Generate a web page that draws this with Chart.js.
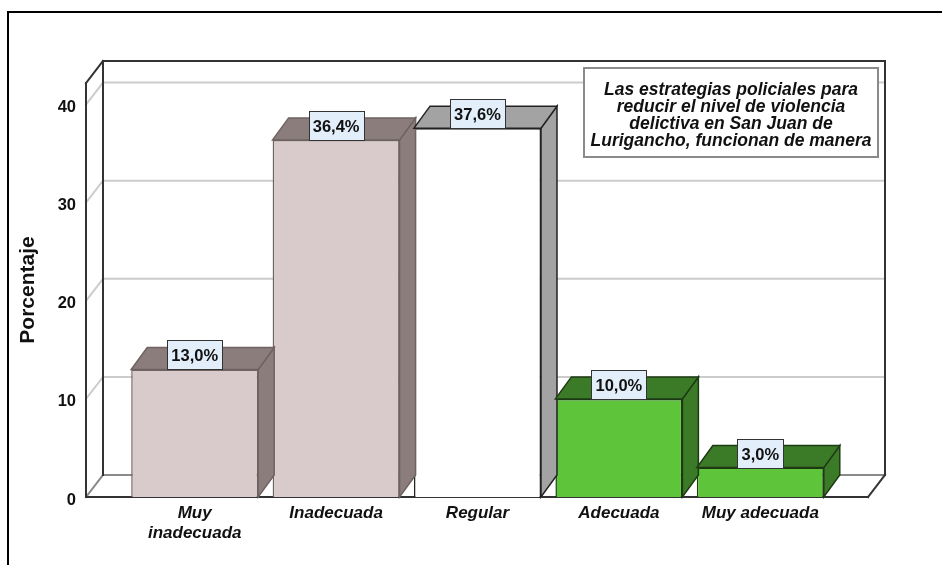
<!DOCTYPE html>
<html>
<head>
<meta charset="utf-8">
<script src="https://cdn.jsdelivr.net/npm/chart.js@4.4.1/dist/chart.umd.min.js"></script>
<style>
  html, body { margin: 0; padding: 0; background: #fff; }
  #wrap { width: 942px; height: 565px; }
</style>
</head>
<body>
<div id="wrap"><canvas id="chart" width="942" height="565"></canvas></div>
<script>
// values
var categories = [['Muy', 'inadecuada'], 'Inadecuada', 'Regular', 'Adecuada', 'Muy adecuada'];
var percentages = [13.0, 36.4, 37.6, 10.0, 3.0];
var yTicks = [0, 10, 20, 30, 40];
var noteLines = [
	'Las estrategias policiales para',
	'reducir el nivel de violencia',
	'delictiva en San Juan de',
	'Lurigancho, funcionan de manera'
];

// bar styling
var frontColors = ['#d9cbcb', '#d9cbcb', '#ffffff', '#5ec43a', '#5ec43a'];
var shadeColors = ['#8c7d7d', '#8c7d7d', '#a3a3a3', '#3b7a26', '#3b7a26'];
var edgeColors = ['#6e6262', '#6e6262', '#222222', '#1e3a14', '#1e3a14'];

var FONT = '"Liberation Sans", Arial, sans-serif';
var barDepth = { x: 16, y: 22 };
var wallDepth = { x: 17, y: 22 };

function fmt(v) {
	return v.toFixed(1).replace('.', ',') + '%';
}

function poly(ctx, pts, fill, stroke, lw) {
	ctx.beginPath();
	ctx.moveTo(pts[0][0], pts[0][1]);
	for (var i = 1; i < pts.length; i++) {
		ctx.lineTo(pts[i][0], pts[i][1]);
	}
	ctx.closePath();
	if (fill) {
		ctx.fillStyle = fill;
		ctx.fill();
	}
	if (stroke) {
		ctx.strokeStyle = stroke;
		ctx.lineWidth = lw || 1;
		ctx.stroke();
	}
}

function line(ctx, x1, y1, x2, y2) {
	ctx.beginPath();
	ctx.moveTo(x1, y1);
	ctx.lineTo(x2, y2);
	ctx.stroke();
}

var box3d = {
	id: 'box3d',
	beforeDatasetsDraw: function (chart) {
		var ctx = chart.ctx, a = chart.chartArea, ys = chart.scales.y;
		var fl = a.left - 38, fr = a.right + 37, ft = a.top, fb = a.bottom;
		var dx = wallDepth.x, dy = wallDepth.y;
		ctx.save();
		ctx.lineCap = 'square';

		// grid lines on the left wall and back wall
		ctx.strokeStyle = '#cccccc';
		ctx.lineWidth = 2;
		yTicks.forEach(function (v) {
			if (v === 0) {
				return;
			}
			var py = ys.getPixelForValue(v);
			ctx.beginPath();
			ctx.moveTo(fl, py);
			ctx.lineTo(fl + dx, py - dy);
			ctx.lineTo(fr + dx, py - dy);
			ctx.stroke();
		});

		// floor back edge and lower left diagonal
		ctx.strokeStyle = '#8a8a8a';
		line(ctx, fl + dx, fb - dy, fr + dx, fb - dy);
		line(ctx, fl, fb, fl + dx, fb - dy);

		// dark frame edges
		ctx.strokeStyle = '#333333';
		line(ctx, fl + dx, ft - dy, fr + dx, ft - dy);
		line(ctx, fr + dx, ft - dy, fr + dx, fb - dy);
		line(ctx, fl + dx, ft - dy, fl + dx, fb - dy);
		line(ctx, fl, ft, fl + dx, ft - dy);
		line(ctx, fl, ft, fl, fb);
		line(ctx, fl, fb, fr, fb);
		line(ctx, fr, fb, fr + dx, fb - dy);
		ctx.restore();
	},
	afterDatasetsDraw: function (chart) {
		var ctx = chart.ctx;
		var meta = chart.getDatasetMeta(0);
		var dx = barDepth.x, dy = barDepth.y;
		ctx.save();
		ctx.lineJoin = 'miter';
		meta.data.forEach(function (bar, i) {
			var half = bar.width / 2;
			var l = bar.x - half, r = bar.x + half, t = bar.y, b = bar.base;
			poly(ctx, [[r, t], [r + dx, t - dy], [r + dx, b - dy], [r, b]], shadeColors[i], edgeColors[i], 1.5);
			poly(ctx, [[l, t], [l + dx, t - dy], [r + dx, t - dy], [r, t]], shadeColors[i], edgeColors[i], 1.5);
		});

		// value labels
		ctx.font = 'bold 16.5px ' + FONT;
		ctx.textAlign = 'center';
		ctx.textBaseline = 'middle';
		meta.data.forEach(function (bar, i) {
			var txt = fmt(percentages[i]);
			var w = Math.round(ctx.measureText(txt).width) + 8;
			var h = 29;
			var bx = Math.round(bar.x - w / 2) + 0.5;
			var by = Math.round(bar.y - h) + 0.5;
			ctx.fillStyle = '#e2eefa';
			ctx.fillRect(bx, by, w, h);
			ctx.strokeStyle = '#333333';
			ctx.lineWidth = 1;
			ctx.strokeRect(bx, by, w, h);
			ctx.fillStyle = '#111111';
			ctx.fillText(txt, bar.x, by + h / 2 + 1);
		});
		ctx.restore();
	},
	afterDraw: function (chart) {
		var ctx = chart.ctx;
		ctx.save();

		// note box in the upper right
		ctx.fillStyle = '#ffffff';
		ctx.fillRect(584, 68, 294, 89);
		ctx.strokeStyle = '#8a8a8a';
		ctx.lineWidth = 2;
		ctx.strokeRect(584, 68, 294, 89);
		ctx.fillStyle = '#111111';
		ctx.font = 'italic bold 17.5px ' + FONT;
		ctx.textAlign = 'center';
		ctx.textBaseline = 'middle';
		noteLines.forEach(function (s, i) {
			ctx.fillText(s, 731, 90 + i * 17);
		});

		// outer frame (top and left only)
		ctx.strokeStyle = '#000000';
		ctx.lineWidth = 2;
		ctx.beginPath();
		ctx.moveTo(942, 12);
		ctx.lineTo(8, 12);
		ctx.lineTo(8, 565);
		ctx.stroke();
		ctx.restore();
	}
};

var ctx = document.getElementById('chart').getContext('2d');
var chart = new Chart(ctx, {
	type: 'bar',
	data: {
		labels: categories,
		datasets: [{
			data: percentages,
			backgroundColor: frontColors,
			borderColor: edgeColors,
			borderWidth: 1.5,
			barPercentage: 0.898,
			categoryPercentage: 1
		}]
	},
	options: {
		responsive: false,
		animation: false,
		devicePixelRatio: 1,
		layout: { padding: { top: 83, right: 111, left: 0, bottom: 0 } },
		plugins: {
			legend: { display: false },
			tooltip: { enabled: false }
		},
		scales: {
			x: {
				grid: { display: false, drawTicks: false },
				border: { display: false },
				ticks: {
					color: '#111111',
					padding: 6,
					maxRotation: 0,
					autoSkip: false,
					font: { family: FONT, size: 17, weight: 'bold', style: 'italic', lineHeight: 1.2 }
				},
				afterFit: function (scale) {
					scale.height = 68;
				}
			},
			y: {
				min: 0,
				max: 42.2,
				grid: { display: false, drawTicks: false },
				border: { display: false },
				ticks: {
					stepSize: 10,
					includeBounds: false,
					color: '#111111',
					padding: 48,
					labelOffset: 3,
					font: { family: FONT, size: 16.5, weight: 'bold' }
				},
				title: {
					display: true,
					text: 'Porcentaje',
					color: '#111111',
					padding: { top: 16 },
					font: { family: FONT, size: 21, weight: 'bold' }
				},
				afterFit: function (scale) {
					scale.width = 124;
				}
			}
		}
	},
	plugins: [box3d]
});
</script>
</body>
</html>
